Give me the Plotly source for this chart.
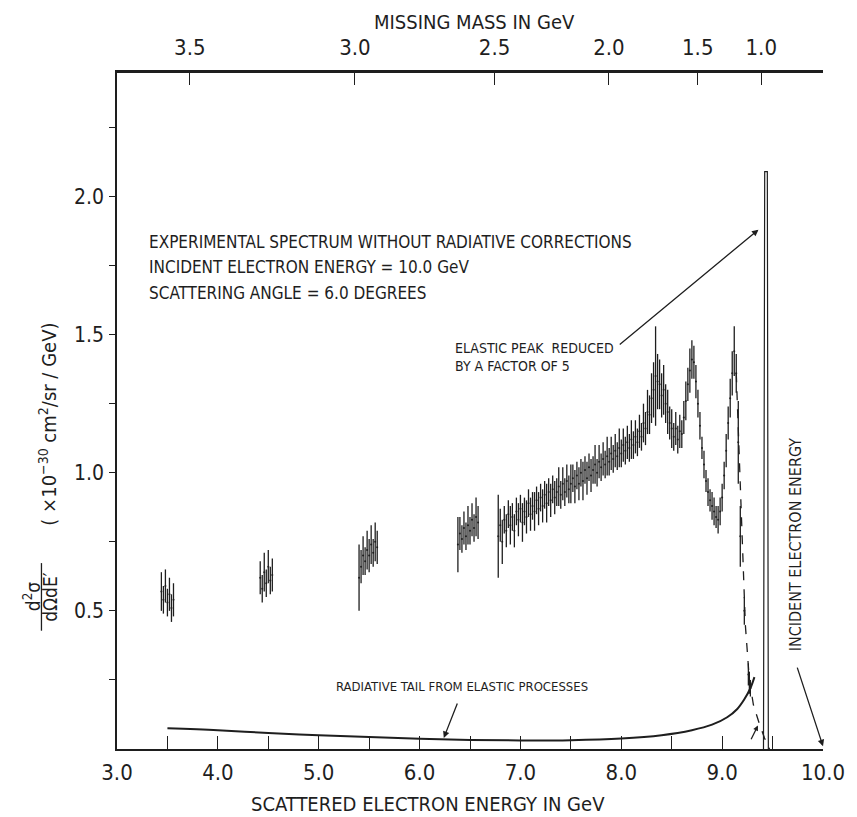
import numpy as np
import plotly.graph_objects as go

# kinematics for the missing mass axis
E0 = 10.0
THETA = 6.0
MP = 0.938

# bottom axis
e_ticks = [3, 4, 5, 6, 7, 8, 9, 10]
e_labels = ["3.0", "4.0", "5.0", "6.0", "7.0", "8.0", "9.0", "10.0"]
e_minor = [3.5, 4.5, 5.5, 6.5, 7.5, 8.5, 9.5]

# top axis (missing mass W)
w_ticks = [3.5, 3.0, 2.5, 2.0, 1.5, 1.0]
w_labels = ["3.5", "3.0", "2.5", "2.0", "1.5", "1.0"]

# left axis
y_ticks = [0.5, 1.0, 1.5, 2.0]
y_labels = ["0.5", "1.0", "1.5", "2.0"]
y_minor = [0.25, 0.75, 1.25, 1.75, 2.25]

# measured spectrum, four short runs
e_run1 = [3.44, 3.46, 3.48, 3.50, 3.52, 3.54, 3.56]
v_run1 = [0.57, 0.54, 0.59, 0.53, 0.56, 0.51, 0.54]
d_run1 = [0.07, 0.05, 0.06, 0.05, 0.06, 0.05, 0.06]

e_run2 = [4.42, 4.44, 4.46, 4.48, 4.50, 4.52, 4.54]
v_run2 = [0.62, 0.58, 0.64, 0.60, 0.66, 0.61, 0.63]
d_run2 = [0.06, 0.05, 0.07, 0.05, 0.06, 0.05, 0.06]

e_run3 = [5.40, 5.42, 5.44, 5.46, 5.48, 5.50, 5.52, 5.54, 5.56, 5.58]
v_run3 = [0.62, 0.66, 0.70, 0.68, 0.72, 0.70, 0.74, 0.71, 0.75, 0.73]
d_run3 = [0.12, 0.06, 0.07, 0.05, 0.07, 0.06, 0.07, 0.05, 0.07, 0.06]

e_run4 = [6.38, 6.40, 6.42, 6.44, 6.46, 6.48, 6.50, 6.52, 6.54, 6.56, 6.58]
v_run4 = [0.74, 0.78, 0.76, 0.80, 0.77, 0.81, 0.79, 0.83, 0.80, 0.84, 0.82]
d_run4 = [0.10, 0.06, 0.05, 0.06, 0.05, 0.07, 0.05, 0.06, 0.05, 0.07, 0.06]

# long run, 6.78 to 9.14 GeV every 0.02 GeV
e_run5 = [round(6.78 + 0.02 * i, 2) for i in range(119)]
v_run5 = [
    0.77, 0.81, 0.75, 0.83, 0.79, 0.85, 0.81, 0.84, 0.79, 0.86,
    0.83, 0.87, 0.82, 0.86, 0.84, 0.89, 0.85, 0.88, 0.86, 0.90,
    0.87, 0.91, 0.88, 0.92, 0.89, 0.93, 0.90, 0.94, 0.91, 0.93,
    0.95, 0.92, 0.96, 0.93, 0.97, 0.94, 0.96, 0.98, 0.95, 0.99,
    0.96, 1.00, 0.97, 1.01, 0.98, 1.02, 0.99, 1.01, 1.03, 1.00,
    1.04, 1.02, 1.05, 1.03, 1.06, 1.04, 1.07, 1.05, 1.08, 1.06,
    1.09, 1.07, 1.10, 1.08, 1.11, 1.09, 1.12, 1.10, 1.13, 1.11,
    1.15, 1.13, 1.18, 1.16, 1.22, 1.21, 1.27, 1.30, 1.35, 1.33,
    1.32, 1.28, 1.30, 1.25, 1.22, 1.18, 1.16, 1.13, 1.16, 1.12,
    1.15, 1.14, 1.20, 1.26, 1.32, 1.37, 1.41, 1.40, 1.33, 1.25,
    1.17, 1.09, 1.03, 0.97, 0.93, 0.90, 0.88, 0.86, 0.84, 0.83,
    0.86, 0.91, 0.99, 1.08, 1.18, 1.27, 1.36, 1.44, 1.36,
]
d_run5 = [
    0.15, 0.06, 0.08, 0.05, 0.06, 0.05, 0.07, 0.05, 0.06, 0.05,
    0.06, 0.05, 0.07, 0.05, 0.06, 0.05, 0.06, 0.05, 0.07, 0.05,
    0.06, 0.05, 0.06, 0.05, 0.07, 0.05, 0.06, 0.05, 0.06, 0.05,
    0.07, 0.05, 0.06, 0.05, 0.06, 0.05, 0.07, 0.05, 0.06, 0.05,
    0.06, 0.05, 0.07, 0.05, 0.06, 0.05, 0.06, 0.05, 0.07, 0.05,
    0.06, 0.05, 0.06, 0.05, 0.07, 0.05, 0.06, 0.05, 0.06, 0.05,
    0.07, 0.05, 0.06, 0.05, 0.06, 0.05, 0.07, 0.05, 0.06, 0.05,
    0.06, 0.05, 0.07, 0.06, 0.08, 0.07, 0.09, 0.10, 0.18, 0.10,
    0.09, 0.08, 0.09, 0.07, 0.08, 0.06, 0.07, 0.05, 0.06, 0.05,
    0.06, 0.05, 0.06, 0.07, 0.06, 0.08, 0.07, 0.06, 0.06, 0.05,
    0.05, 0.04, 0.05, 0.04, 0.05, 0.04, 0.05, 0.05, 0.04, 0.05,
    0.05, 0.05, 0.05, 0.06, 0.06, 0.07, 0.08, 0.09, 0.07,
]

# falling edge after the last resonance
e_run6 = [9.16, 9.18, 9.22, 9.26, 9.27, 9.28]
v_run6 = [1.11, 0.77, 0.50, 0.27, 0.24, 0.22]
d_run6 = [0.15, 0.11, 0.05, 0.04, 0.04, 0.03]

# dashed guide down to the elastic line
e_dash = [9.14, 9.17, 9.20, 9.23, 9.27, 9.31, 9.37, 9.42, 9.47]
v_dash = [1.36, 1.05, 0.72, 0.45, 0.25, 0.16, 0.09, 0.04, 0.0]

# elastic peak (reduced by 5), drawn as two close strokes
e_elastic = [9.41, 9.422, 9.448, 9.458]
v_elastic = [0.0, 2.09, 2.09, 0.0]

# radiative tail from elastic processes
e_tail = [3.5, 4.0, 4.5, 5.0, 5.5, 6.0, 6.5, 7.0, 7.5, 8.0, 8.4, 8.7, 8.9, 9.05, 9.15, 9.22, 9.28, 9.32]
v_tail = [0.075, 0.068, 0.058, 0.050, 0.043, 0.037, 0.033, 0.031, 0.032, 0.038, 0.050, 0.068, 0.088, 0.115, 0.145, 0.18, 0.22, 0.26]

INK = "#1e1e1e"
FONT = "Liberation Sans Narrow, DejaVu Sans Condensed, DejaVu Sans, sans-serif"

# E' at which each missing mass is reached
s2 = np.sin(np.radians(THETA / 2)) ** 2
w_pos = [(MP**2 + 2 * MP * E0 - w**2) / (2 * MP + 4 * E0 * s2) for w in w_ticks]

fig = go.Figure()

runs = [
    (e_run1, v_run1, d_run1),
    (e_run2, v_run2, d_run2),
    (e_run3, v_run3, d_run3),
    (e_run4, v_run4, d_run4),
    (e_run5, v_run5, d_run5),
    (e_run6, v_run6, d_run6),
]
for ex, vy, dy in runs:
    fig.add_trace(go.Scatter(
        x=ex, y=vy, mode="markers",
        marker=dict(size=2, color=INK),
        error_y=dict(type="data", array=dy, width=0, thickness=1.3, color=INK),
        showlegend=False, hoverinfo="skip"))

fig.add_trace(go.Scatter(x=e_dash, y=v_dash, mode="lines",
                         line=dict(color=INK, width=1.3, dash="dash"),
                         showlegend=False, hoverinfo="skip"))
fig.add_trace(go.Scatter(x=e_elastic, y=v_elastic, mode="lines",
                         line=dict(color=INK, width=1.2),
                         showlegend=False, hoverinfo="skip"))
fig.add_trace(go.Scatter(x=e_tail, y=v_tail, mode="lines",
                         line=dict(color=INK, width=2, shape="spline"),
                         showlegend=False, hoverinfo="skip"))
# invisible trace so the top axis is drawn
fig.add_trace(go.Scatter(x=[3, 10], y=[0, 0], xaxis="x2", mode="markers",
                         marker=dict(opacity=0), showlegend=False, hoverinfo="skip"))

# page body adds 8px, so the figure is 8px smaller and margins shifted
fig.update_layout(
    width=849, height=809,
    margin=dict(l=109, r=27, t=65, b=68),
    paper_bgcolor="white", plot_bgcolor="white",
    font=dict(family=FONT, color=INK, size=20),
    xaxis=dict(range=[3, 10], tickvals=e_ticks, ticktext=e_labels,
               ticks="inside", ticklen=13, tickwidth=1.2, tickcolor=INK,
               minor=dict(tickvals=e_minor, ticks="inside", ticklen=13, tickwidth=1.2, tickcolor=INK),
               showline=True, linecolor=INK, linewidth=2, showgrid=False, zeroline=False,
               tickfont=dict(size=22), ticklabelstandoff=3),
    xaxis2=dict(range=[3, 10], overlaying="x", side="top", anchor="y",
                tickvals=w_pos, ticktext=w_labels,
                ticks="inside", ticklen=12, tickwidth=1.2, tickcolor=INK,
                showline=True, linecolor=INK, linewidth=2.5, showgrid=False, zeroline=False,
                tickfont=dict(size=22), ticklabelstandoff=6),
    yaxis=dict(range=[0, 2.447], tickvals=y_ticks, ticktext=y_labels,
               ticks="outside", ticklen=6, tickwidth=1.2, tickcolor=INK,
               minor=dict(tickvals=y_minor, ticks="outside", ticklen=6, tickwidth=1.2, tickcolor=INK),
               showline=True, linecolor=INK, linewidth=1.5, showgrid=False, zeroline=False,
               tickfont=dict(size=21), ticklabelstandoff=1),
)

def note(text, x, y, size, **kw):
    fig.add_annotation(text=text, x=x, y=y, showarrow=False, font=dict(size=size),
                       yanchor="middle", **kw)

# axis titles
note("SCATTERED ELECTRON ENERGY IN GeV", 0.44, -0.082, 20, xref="paper", yref="paper", xanchor="center")
note("MISSING MASS IN GeV", 0.506, 1.076, 20, xref="paper", yref="paper", xanchor="center")

# y title: fraction plus units, rotated
note("d<sup>2</sup>σ", -0.12, 0.225, 19, xref="paper", yref="paper", xanchor="center", textangle=-90)
note("dΩdE′", -0.095, 0.225, 19, xref="paper", yref="paper", xanchor="center", textangle=-90)
fig.add_shape(type="line", xref="paper", yref="paper", x0=-0.107, x1=-0.107, y0=0.175, y1=0.275,
              line=dict(color=INK, width=1.3))
note("( ×10<sup>−30</sup> cm<sup>2</sup>/sr / GeV)", -0.099, 0.48, 20, xref="paper", yref="paper",
     xanchor="center", textangle=-90)

# description block
notes = ["EXPERIMENTAL SPECTRUM WITHOUT RADIATIVE CORRECTIONS",
         "INCIDENT ELECTRON ENERGY = 10.0 GeV",
         "SCATTERING ANGLE = 6.0 DEGREES"]
for i, line in enumerate(notes):
    note(line, 3.30, 1.835 - 0.092 * i, 17, xanchor="left")

fig.add_annotation(text="ELASTIC PEAK  REDUCED<br>BY A FACTOR OF 5", x=6.33, y=1.42,
                   xanchor="left", yanchor="middle", align="left", showarrow=False, font=dict(size=14))
fig.add_annotation(text="", x=9.36, y=1.88, ax=7.97, ay=1.46, axref="x", ayref="y",
                   showarrow=True, arrowhead=2, arrowsize=1, arrowwidth=1.3, arrowcolor=INK)

note("RADIATIVE TAIL FROM ELASTIC PROCESSES", 5.15, 0.225, 13, xanchor="left")
fig.add_annotation(text="", x=6.24, y=0.04, ax=6.38, ay=0.17, axref="x", ayref="y",
                   showarrow=True, arrowhead=2, arrowsize=1, arrowwidth=1.3, arrowcolor=INK)

note("INCIDENT ELECTRON ENERGY", 9.73, 0.74, 16, xanchor="center", textangle=-90)
fig.add_annotation(text="", x=10.0, y=0.01, ax=9.74, ay=0.3, axref="x", ayref="y",
                   showarrow=True, arrowhead=2, arrowsize=1, arrowwidth=1.3, arrowcolor=INK)
fig.add_annotation(text="", x=9.355, y=0.085, ax=9.28, ay=0.03, axref="x", ayref="y",
                   showarrow=True, arrowhead=2, arrowsize=0.8, arrowwidth=1.3, arrowcolor=INK)

fig.write_html("out.html")
